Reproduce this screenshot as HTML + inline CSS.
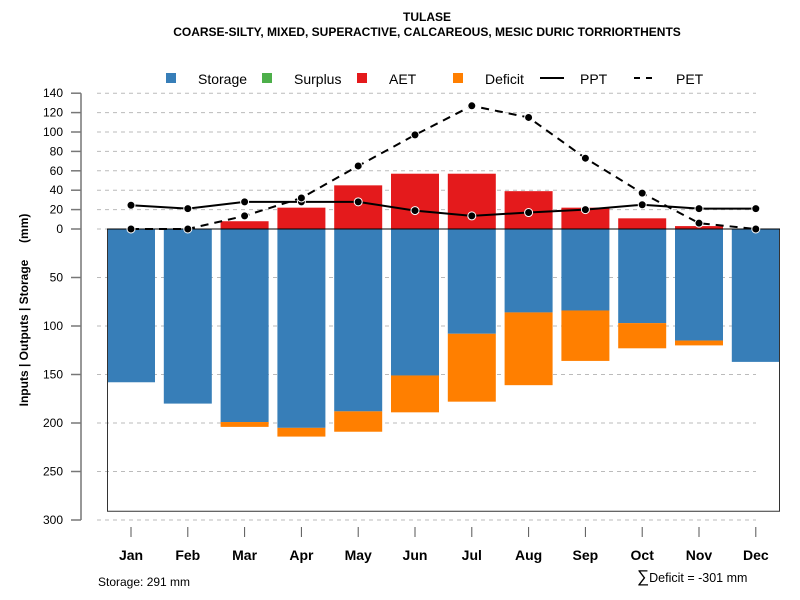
<!DOCTYPE html>
<html><head><meta charset="utf-8"><style>
body{margin:0;background:#fff}
svg{display:block;font-family:"Liberation Sans",sans-serif}
</style></head><body>
<svg id="c" width="800" height="600" viewBox="0 0 800 600">
<text x="427" y="21" text-anchor="middle" font-size="12" font-weight="bold">TULASE</text>
<text x="427" y="36" text-anchor="middle" font-size="12" font-weight="bold">COARSE-SILTY, MIXED, SUPERACTIVE, CALCAREOUS, MESIC DURIC TORRIORTHENTS</text>
<g id="legend" font-size="14">
<g><rect x="166" y="73" width="10" height="10" fill="#377EB8"/><text x="198" y="84">Storage</text></g>
<g><rect x="262" y="73" width="10" height="10" fill="#4DAF4A"/><text x="294" y="84">Surplus</text></g>
<g><rect x="357" y="73" width="10" height="10" fill="#E41A1C"/><text x="389" y="84">AET</text></g>
<g><rect x="453" y="73" width="10" height="10" fill="#FF7F00"/><text x="485" y="84">Deficit</text></g>
<g><line x1="540" y1="78" x2="564" y2="78" stroke="#000" stroke-width="2"/><text x="580" y="84">PPT</text></g>
<g><line x1="634" y1="78" x2="658" y2="78" stroke="#000" stroke-width="2" stroke-dasharray="6,6"/><text x="676" y="84">PET</text></g>
</g>
<text transform="translate(28,310) rotate(-90)" text-anchor="middle" font-size="12" font-weight="bold" xml:space="preserve" style="white-space:pre">Inputs | Outputs | Storage     (mm)</text>
<g id="grid"></g><g id="yaxis"></g><g id="bars"></g><g id="lines"></g><g id="xaxis"></g>
<text x="98" y="586" font-size="12">Storage: 291 mm</text>
<text x="637" y="582" font-size="12.5"><tspan font-size="17">∑</tspan>Deficit = -301 mm</text>
</svg>
<script>
const months=["Jan","Feb","Mar","Apr","May","Jun","Jul","Aug","Sep","Oct","Nov","Dec"];
const storage=[158,180,199,205,188,151,108,86,84,97,115,137];
const deficit=[0,0,5,9,21,38,70,75,52,26,5,0];
const aet=[0,0,8,22,45,57,57,39,22,11,3,0];
const ppt=[24.5,21,28,28,28,19,13.5,17,20,25,21,21];
const pet=[0,0,13.5,32,65,97,127,115,73,37,6,0];
const capacity=291;
const upTicks=[0,20,40,60,80,100,120,140];
const downTicks=[50,100,150,200,250,300];
const NS="http://www.w3.org/2000/svg";
const y0=229,k=0.97;
const Y=v=>y0-v*k;
const X=i=>131+i*56.8;
const bw=48;
function mk(tag,attrs,parent){const e=document.createElementNS(NS,tag);for(const a in attrs)e.setAttribute(a,attrs[a]);document.getElementById(parent).appendChild(e);return e;}
const allT=upTicks.map(v=>[v,v]).concat(downTicks.map(v=>[-v,v]));
allT.forEach(([v,lab])=>{
 const g=mk('line',{x1:97,x2:756,y1:Y(v),y2:Y(v),stroke:'#bbb','stroke-dasharray':'4,4'},'grid');
 
 
 const t=mk('line',{x1:71,x2:81,y1:Y(v),y2:Y(v),stroke:'#777','stroke-width':1.5},'yaxis');
 
 
 const tx=mk('text',{x:63,y:Y(v)+4,'text-anchor':'end','font-size':12},'yaxis');
 tx.textContent=lab;
 
 
});
const ax=mk('line',{x1:81,x2:81,y1:Y(140),y2:Y(-300),stroke:'#777','stroke-width':1.5},'yaxis');


months.forEach((m,i)=>{
 const x=X(i)-bw/2;
 const s=mk('rect',{x:x,y:y0,width:bw,height:storage[i]*k,fill:'#377EB8'},'bars');
 
 
 if(deficit[i]>0){const d=mk('rect',{x:x,y:Y(-storage[i]),width:bw,height:deficit[i]*k,fill:'#FF7F00'},'bars');
 
 }
 if(aet[i]>0){const a=mk('rect',{x:x,y:Y(aet[i]),width:bw,height:aet[i]*k,fill:'#E41A1C'},'bars');
 
 }
 const tk=mk('line',{x1:X(i),x2:X(i),y1:527,y2:537,stroke:'#555'},'xaxis');
 
 
 const tl=mk('text',{x:X(i),y:560,'text-anchor':'middle','font-size':14,'font-weight':'bold'},'xaxis');
 tl.textContent=m;
 
 
});
const box=mk('path',{d:`M107.5 ${y0} V${Y(-capacity)} H779.5 V${y0}`,fill:'none',stroke:'#333'},'bars');


const zl=mk('line',{x1:107,x2:780,y1:y0,y2:y0,stroke:'#000'},'bars');


function series(arr,name,dash){
 const p=mk('polyline',{points:arr.map((v,i)=>X(i)+','+Y(v)).join(' '),fill:'none',stroke:'#000','stroke-width':2,'stroke-dasharray':dash},'lines');
 
 
 arr.forEach((v,i)=>{const c=mk('circle',{cx:X(i),cy:Y(v),r:4,fill:'#000',stroke:'#fff','stroke-width':1},'lines');
 
 });
}
series(ppt,'ppt','none');
series(pet,'pet','8,6');
</script>
</body></html>
